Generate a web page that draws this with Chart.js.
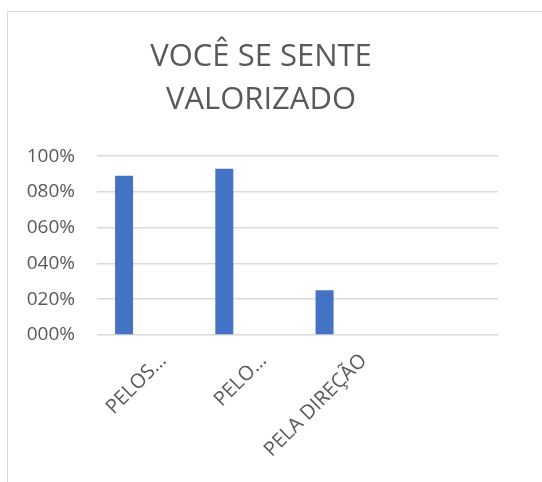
<!DOCTYPE html>
<html lang="pt">
<head>
<meta charset="UTF-8">
<title>Você se sente valorizado</title>
<style>
  html, body { margin: 0; padding: 0; background: #fff; overflow: hidden; }
  #frame { position: absolute; left: 7px; top: 11px; width: 600px; height: 600px;
           border-top: 1px solid #d9d9d9; border-left: 1px solid #d9d9d9; }
  #wrap { position: absolute; left: 0; top: 0; width: 542px; height: 482px; }
</style>
<script src="https://cdn.jsdelivr.net/npm/chart.js"></script>
</head>
<body>
<div id="frame"></div>
<div id="wrap"><canvas id="chart"></canvas></div>
<script>
// categorias (a 4ª fica vazia, como no gráfico original)
const categorias = ['PELOS…', 'PELO…', 'PELA DIREÇÃO', ''];
// percentuais
const serieSim = [89, 93, 25, null];
// segunda série sem valores (ocupa o espaço ao lado das barras)
const serieVazia = [null, null, null, null];
const ticksY = [0, 20, 40, 60, 80, 100];

const cinza = '#595959';
const fonte = '"Open Sans", "Noto Sans", sans-serif';

new Chart(document.getElementById('chart'), {
  type: 'bar',
  data: {
    labels: categorias,
    datasets: [
      { label: 'Série1', data: serieSim, backgroundColor: '#4472C4',
        categoryPercentage: 0.92, barPercentage: 0.39 },
      { label: 'Série2', data: serieVazia, backgroundColor: '#ED7D31',
        categoryPercentage: 0.92, barPercentage: 0.39 }
    ]
  },
  options: {
    responsive: true,
    maintainAspectRatio: false,
    animation: false,
    layout: { padding: { left: 24, right: 44, top: 36, bottom: 0 } },
    plugins: {
      legend: { display: false },
      tooltip: { enabled: false },
      title: {
        display: true,
        text: ['VOCÊ SE SENTE', 'VALORIZADO'],
        color: cinza,
        font: { family: fonte, size: 31, weight: 'normal', lineHeight: 1.39 },
        padding: { top: 0, bottom: 34 }
      }
    },
    scales: {
      x: {
        grid: { display: false, drawTicks: false },
        border: { display: false },
        ticks: {
          color: cinza,
          font: { family: fonte, size: 20 },
          minRotation: 45, maxRotation: 45,
          autoSkip: false,
          labelOffset: 16,
          padding: 14
        },
        afterFit: s => { s.height = 147; }
      },
      y: {
        min: 0, max: 100,
        afterBuildTicks: s => { s.ticks = ticksY.map(v => ({ value: v })); },
        grid: { color: '#d9d9d9', lineWidth: 1.5, drawTicks: false },
        border: { display: false },
        ticks: {
          color: cinza,
          font: { family: fonte, size: 19 },
          padding: 22,
          callback: v => String(v).padStart(3, '0') + '%'
        },
        afterFit: s => { s.width = 73; }
      }
    }
  }
});
</script>
</body>
</html>
